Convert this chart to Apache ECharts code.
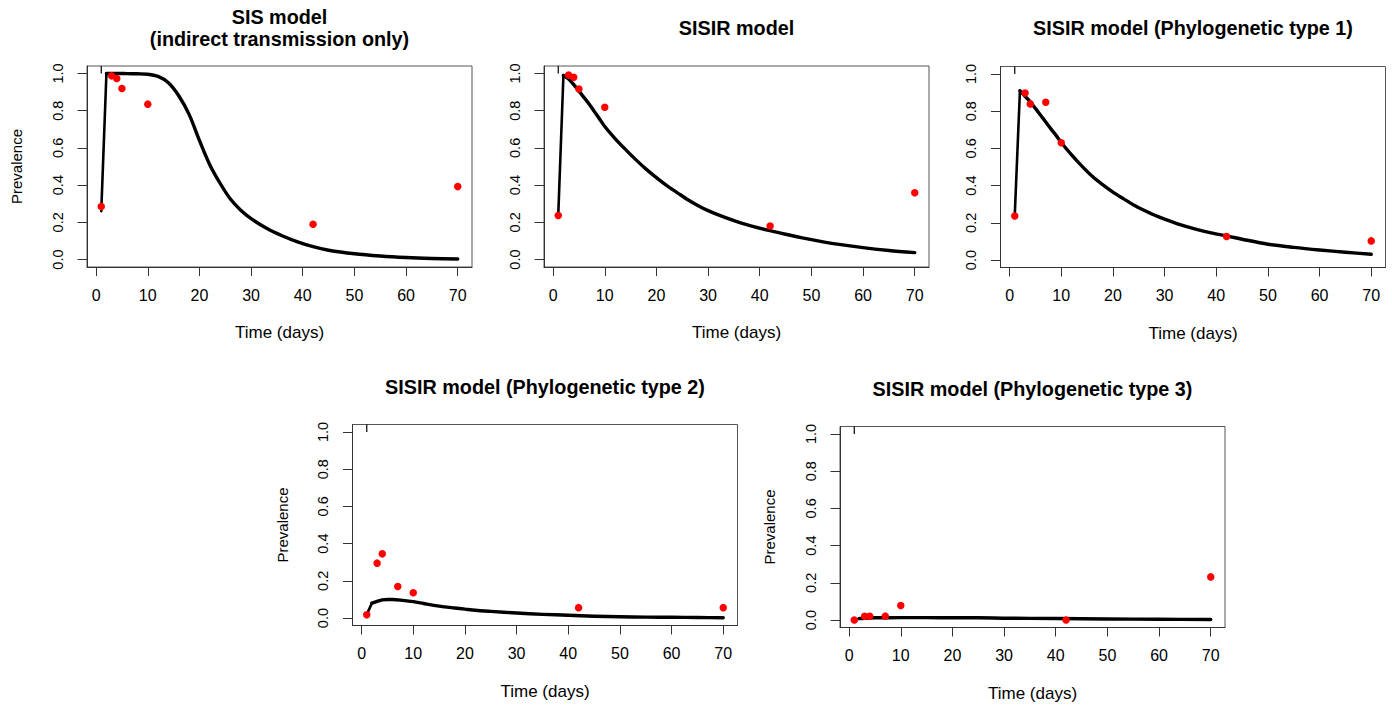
<!DOCTYPE html>
<html><head><meta charset="utf-8">
<script src="https://cdn.jsdelivr.net/npm/echarts@6/dist/echarts.min.js"></script>
<style>html,body{margin:0;padding:0;background:#fff;}#c{width:1392px;height:706px;}</style>
</head><body><div id="c"></div>
<script>
// ---------- data ----------
const xTicks = [0, 10, 20, 30, 40, 50, 60, 70];
const yTicks = [0, 0.2, 0.4, 0.6, 0.8, 1.0];
const panelTitles = [
  'SIS model\n(indirect transmission only)',
  'SISIR model',
  'SISIR model (Phylogenetic type 1)',
  'SISIR model (Phylogenetic type 2)',
  'SISIR model (Phylogenetic type 3)'
];
const xName = 'Time (days)';
const yName = 'Prevalence';

// observed prevalence (red points)
const obsDays1 = [1, 3, 4, 5, 10, 42, 70];
const obsPrev1 = [0.285, 0.987, 0.973, 0.919, 0.835, 0.19, 0.392];
const obsDays2 = [1, 3, 4, 5, 10, 42, 70];
const obsPrev2 = [0.237, 0.991, 0.979, 0.916, 0.818, 0.18, 0.359];
const obsDays3 = [1, 3, 4, 7, 10, 42, 70];
const obsPrev3 = [0.237, 0.897, 0.839, 0.848, 0.63, 0.127, 0.103];
const obsDays4 = [1, 3, 4, 7, 10, 42, 70];
const obsPrev4 = [0.018, 0.295, 0.345, 0.17, 0.136, 0.056, 0.056];
const obsDays5 = [1, 3, 4, 7, 10, 42, 70];
const obsPrev5 = [0.0, 0.02, 0.02, 0.021, 0.078, 0.0, 0.232];

// model prevalence (black curves)
const modDays1 = [1, 2, 4, 6, 8, 10, 12, 14, 16, 18, 20, 22, 24, 26, 28, 30, 33, 36, 39, 42, 45, 50, 55, 60, 65, 70];
const modPrev1 = [0.26, 1.0, 1.0, 0.999, 0.998, 0.996, 0.984, 0.95, 0.88, 0.78, 0.64, 0.51, 0.41, 0.325, 0.265, 0.22, 0.168, 0.128, 0.095, 0.069, 0.05, 0.031, 0.019, 0.011, 0.006, 0.003];
const modDays2 = [1, 2, 3, 4, 5, 6, 7, 8, 9, 10, 12, 14, 16, 18, 20, 22, 24, 26, 28, 30, 33, 36, 39, 42, 45, 48, 51, 55, 60, 65, 70];
const modPrev2 = [0.24, 0.99, 0.97, 0.94, 0.905, 0.87, 0.835, 0.795, 0.755, 0.715, 0.65, 0.592, 0.537, 0.486, 0.44, 0.397, 0.36, 0.323, 0.291, 0.263, 0.229, 0.2, 0.176, 0.155, 0.136, 0.118, 0.102, 0.083, 0.064, 0.049, 0.037];
const modDays3 = [1, 2, 3, 4, 5, 6, 7, 8, 9, 10, 12, 14, 16, 18, 20, 22, 24, 26, 28, 30, 33, 36, 39, 42, 45, 50, 55, 60, 65, 70];
const modPrev3 = [0.24, 0.91, 0.88, 0.85, 0.815, 0.778, 0.742, 0.705, 0.67, 0.632, 0.565, 0.505, 0.45, 0.405, 0.365, 0.33, 0.296, 0.268, 0.242, 0.22, 0.19, 0.166, 0.146, 0.13, 0.112, 0.085, 0.068, 0.054, 0.042, 0.031];
const modDays4 = [1, 2, 3, 4, 5, 6, 8, 10, 12, 14, 16, 18, 20, 22, 25, 30, 35, 40, 45, 50, 55, 60, 65, 70];
const modPrev4 = [0.02, 0.08, 0.09, 0.098, 0.1, 0.1, 0.095, 0.088, 0.078, 0.068, 0.06, 0.054, 0.048, 0.042, 0.036, 0.027, 0.02, 0.015, 0.01, 0.007, 0.005, 0.004, 0.003, 0.002];
const modDays5 = [1, 2, 3, 5, 10, 15, 20, 25, 30, 40, 50, 60, 70];
const modPrev5 = [0.0, 0.008, 0.01, 0.012, 0.013, 0.013, 0.012, 0.012, 0.01, 0.008, 0.006, 0.004, 0.003];

// short vertical mark at day 1 near the top of each panel
const markDays = [1, 1];
const markPrev = [1.0, 1.04];

// ---------- layout (pixels) ----------
const panels = [
  { left: 87,    top: 66,    titleY: 5.5, showY: true },
  { left: 544,   top: 66,    titleY: 17,  showY: false },
  { left: 1000.5,top: 66.5,  titleY: 17,  showY: false },
  { left: 352.5, top: 424.5, titleY: 375.5, showY: true },
  { left: 840,   top: 426.5, titleY: 378, showY: true }
];
const W = 385, H = 201;

const obsDays = [obsDays1, obsDays2, obsDays3, obsDays4, obsDays5];
const obsPrev = [obsPrev1, obsPrev2, obsPrev3, obsPrev4, obsPrev5];
const modDays = [modDays1, modDays2, modDays3, modDays4, modDays5];
const modPrev = [modPrev1, modPrev2, modPrev3, modPrev4, modPrev5];

const zip = (a, b) => a.map((v, i) => [v, b[i]]);

// R-style 4% axis extension
const xr = [1, 70], yr = [0, 1];
const xPad = (xr[1] - xr[0]) * 0.04, yPad = (yr[1] - yr[0]) * 0.04;

const FONT = '"Liberation Sans", Arial, Helvetica, sans-serif';
const AX = '#333';
const LW = 3.4;

const grid = [], xAxis = [], yAxis = [], series = [], title = [];
panels.forEach((p, i) => {
  grid.push({ left: p.left, top: p.top, width: W, height: H, show: true,
    borderColor: '#555', borderWidth: 1, backgroundColor: 'transparent', containLabel: false });
  xAxis.push({
    type: 'value', gridIndex: i, min: xr[0] - xPad, max: xr[1] + xPad,
    name: xName, nameLocation: 'middle', nameGap: 57,
    nameTextStyle: { fontFamily: FONT, fontSize: 17, color: '#000' },
    axisLine: { show: true, onZero: false, lineStyle: { color: AX, width: 1 } },
    axisTick: { show: true, inside: false, length: 9, customValues: xTicks, lineStyle: { color: AX, width: 1 } },
    axisLabel: { show: true, customValues: xTicks, margin: 20, fontFamily: FONT, fontSize: 16, color: '#000',
      formatter: v => String(Math.round(v)) },
    splitLine: { show: false }
  });
  yAxis.push({
    type: 'value', gridIndex: i, min: yr[0] - yPad, max: yr[1] + yPad,
    name: p.showY ? yName : '', nameLocation: 'middle', nameGap: 63,
    nameTextStyle: { fontFamily: FONT, fontSize: 15, color: '#000' },
    axisLine: { show: true, onZero: false, lineStyle: { color: AX, width: 1 } },
    axisTick: { show: true, inside: false, length: 9.5, customValues: yTicks, lineStyle: { color: AX, width: 1 } },
    axisLabel: { show: true, customValues: yTicks, rotate: 90, margin: 22, fontFamily: FONT, fontSize: 14.5, color: '#000',
      formatter: v => v.toFixed(1) },
    splitLine: { show: false }
  });
  title.push({
    text: panelTitles[i], left: p.left + W / 2, top: p.titleY, textAlign: 'center', padding: 0,
    textStyle: { fontFamily: FONT, fontSize: 19.8, fontWeight: 'bold', color: '#000', lineHeight: 22 }
  });
  series.push({
    type: 'line', xAxisIndex: i, yAxisIndex: i, data: zip(markDays, markPrev),
    showSymbol: false, symbol: 'none', clip: true, silent: true,
    lineStyle: { color: '#000', width: 1.2 }, z: 2
  });
  const curve = zip(modDays[i], modPrev[i]);
  // initial straight rise (day 1 -> day 2)
  series.push({
    type: 'line', xAxisIndex: i, yAxisIndex: i, data: curve.slice(0, 2),
    showSymbol: false, symbol: 'none', clip: true, silent: true,
    lineStyle: { color: '#000', width: 2.6, join: 'round', cap: 'round' }, z: 3
  });
  // smooth remainder of the model curve
  series.push({
    type: 'line', xAxisIndex: i, yAxisIndex: i, data: curve.slice(1),
    showSymbol: false, symbol: 'none', smooth: 0.3, clip: true, silent: true,
    lineStyle: { color: '#000', width: LW, join: 'round', cap: 'round' }, z: 3
  });
  series.push({
    type: 'scatter', xAxisIndex: i, yAxisIndex: i, data: zip(obsDays[i], obsPrev[i]),
    symbol: 'circle', symbolSize: 7.5, itemStyle: { color: '#ff0000', opacity: 1 }, silent: true, z: 4
  });
});

const chart = echarts.init(document.getElementById('c'), null, { renderer: 'svg' });
chart.setOption({ animation: false, backgroundColor: '#fff', title, grid, xAxis, yAxis, series });
</script></body></html>
